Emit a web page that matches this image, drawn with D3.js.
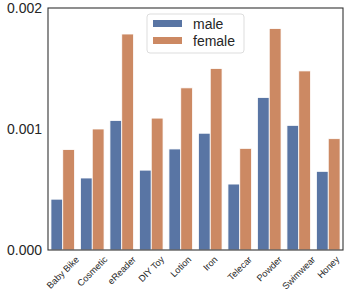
<!DOCTYPE html>
<html>
<head>
<meta charset="utf-8">
<script src="https://cdn.jsdelivr.net/npm/d3@7"></script>
<style>
  body { margin: 0; background: #fff; }
  svg { font-family: "Liberation Sans", Arial, sans-serif; }
</style>
</head>
<body>
<div id="chart"></div>
<script>
// data
var categories = ["Baby Bike", "Cosmetic", "eReader", "DIY Toy", "Lotion", "Iron", "Telecar", "Powder", "Swimwear", "Honey"];
var male = [0.00042, 0.000595, 0.00107, 0.00066, 0.000835, 0.000965, 0.000545, 0.00126, 0.00103, 0.00065];
var female = [0.00083, 0.001, 0.001785, 0.00109, 0.00134, 0.0015, 0.00084, 0.00183, 0.00148, 0.00092];
var seriesNames = ["male", "female"];
var yTicks = [0, 0.001, 0.002];

var svgWidth = 349;
var svgHeight = 291;
var margin = {top: 8, right: 6, bottom: 41, left: 48};
var chartWidth = svgWidth - margin.left - margin.right;
var chartHeight = svgHeight - margin.top - margin.bottom;

var colors = {male: "#5975a4", female: "#cc8963"};

var svg = d3.select("#chart")
  .append("svg")
    .attr("width", svgWidth)
    .attr("height", svgHeight);

var chartGroup = svg.append("g")
  .attr("transform", `translate(${margin.left}, ${margin.top})`);

var x = d3.scaleBand()
  .domain(categories)
  .range([0, chartWidth])
  .paddingInner(0.2)
  .paddingOuter(0.1);

var xSub = d3.scaleBand()
  .domain(seriesNames)
  .range([0, x.bandwidth()]);

var y = d3.scaleLinear()
  .domain([0, 0.002])
  .range([chartHeight, 0]);

var rows = categories.map(function(c, i) {
  return {cat: c, values: [{key: "male", v: male[i]}, {key: "female", v: female[i]}]};
});

// bars
var groups = chartGroup.selectAll(".grp")
  .data(rows)
  .enter()
  .append("g")
  .attr("transform", d => `translate(${x(d.cat)},0)`);

groups.selectAll("rect")
  .data(d => d.values)
  .enter()
  .append("rect")
  .attr("x", d => xSub(d.key))
  .attr("y", d => y(d.v))
  .attr("width", xSub.bandwidth())
  .attr("height", d => chartHeight - y(d.v))
  .attr("fill", d => colors[d.key])
  .attr("stroke", "#ffffff")
  .attr("stroke-width", 0.8);

// axes
var leftAxis = d3.axisLeft(y)
  .tickValues(yTicks)
  .tickFormat(d3.format(".3f"))
  .tickSize(0)
  .tickPadding(6);

var yAxisG = chartGroup.append("g").call(leftAxis);
yAxisG.select(".domain").remove();
yAxisG.selectAll("text")
  .attr("font-size", "14px")
  .attr("fill", "#262626");

var bottomAxis = d3.axisBottom(x).tickSize(0).tickPadding(0);
var xAxisG = chartGroup.append("g")
  .attr("transform", `translate(0, ${chartHeight})`)
  .call(bottomAxis);
xAxisG.select(".domain").remove();
// labels centred on the tick, rotated 45deg, top of rotated box just under the axis
var fs = 9.2;
xAxisG.selectAll("text")
  .attr("font-size", fs + "px")
  .attr("fill", "#262626")
  .attr("text-anchor", "middle")
  .attr("dy", "0.35em")
  .attr("y", 0)
  .attr("transform", function() {
    var w = this.getComputedTextLength();
    var half = (w + fs) * 0.7071 / 2;
    return `translate(0, ${4.5 + half}) rotate(-45)`;
  });

// frame
chartGroup.append("rect")
  .attr("x", 0)
  .attr("y", 0)
  .attr("width", chartWidth)
  .attr("height", chartHeight)
  .attr("fill", "none")
  .attr("stroke", "#333333")
  .attr("stroke-width", 1.1);

// legend
var legend = chartGroup.append("g")
  .attr("transform", "translate(99, 6)");

legend.append("rect")
  .attr("width", 97)
  .attr("height", 39)
  .attr("rx", 3)
  .attr("fill", "#ffffff")
  .attr("fill-opacity", 0.8)
  .attr("stroke", "#dddddd");

seriesNames.forEach(function(name, i) {
  legend.append("rect")
    .attr("x", 6)
    .attr("y", 6 + i * 17)
    .attr("width", 29)
    .attr("height", 7)
    .attr("fill", colors[name]);
  legend.append("text")
    .attr("x", 46)
    .attr("y", 14.5 + i * 17)
    .attr("font-size", "14px")
    .attr("fill", "#262626")
    .text(name);
});
</script>
</body>
</html>
